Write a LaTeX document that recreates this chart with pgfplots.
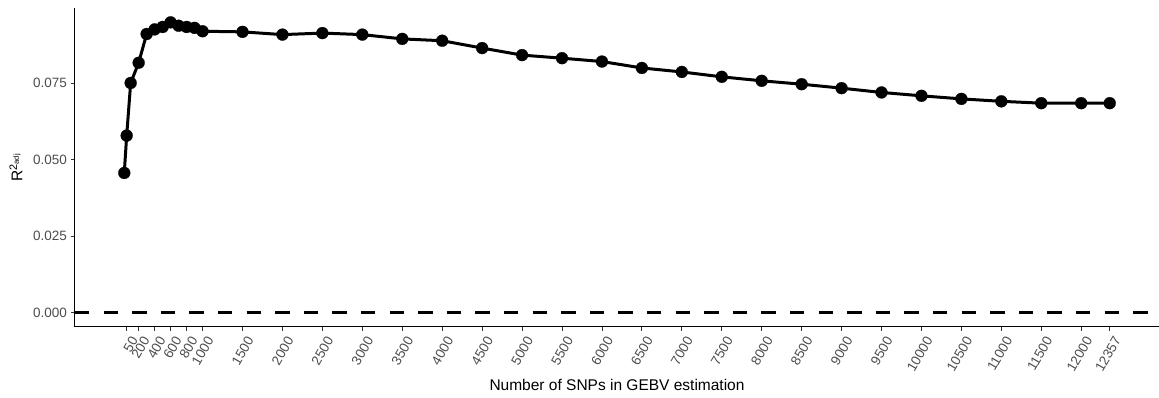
\documentclass[border=0pt]{standalone}
\usepackage{fontspec}
\setmainfont{Liberation Sans}
\usepackage{pgfplots}
\pgfplotsset{compat=1.18}
\definecolor{tickgray}{HTML}{4D4D4D}
\definecolor{axisgray}{HTML}{333333}
\begin{document}
\begin{tikzpicture}
\begin{axis}[
  at={(75pt,71pt)}, anchor=south west,
  scale only axis, width=1084pt, height=319pt,
  xmin=-597, xmax=12974, ymin=-0.00474, ymax=0.0995,
  axis lines=left,
  axis line style={-, line width=1pt, black},
  tick align=outside, major tick length=4pt,
  tick style={line width=0.9pt, axisgray},
  scaled x ticks=false, scaled y ticks=false,
  /pgf/number format/assume math mode=true,
  xtick={50,200,400,600,800,1000,1500,2000,2500,3000,3500,4000,4500,5000,5500,6000,6500,7000,7500,8000,8500,9000,9500,10000,10500,11000,11500,12000,12357},
  xticklabels={50,200,400,600,800,1000,1500,2000,2500,3000,3500,4000,4500,5000,5500,6000,6500,7000,7500,8000,8500,9000,9500,10000,10500,11000,11500,12000,12357},
  ytick={0,0.025,0.05,0.075},
  yticklabels={0.000,0.025,0.050,0.075},
  xticklabel style={rotate=60, anchor=east, font=\fontsize{13.5}{15}\selectfont, text=tickgray, inner sep=1pt, xshift=-1pt, yshift=-10pt},
  yticklabel style={font=\fontsize{13.5}{15}\selectfont, text=tickgray, inner sep=1pt, xshift=-3pt},
  xlabel={Number of SNPs in GEBV estimation},
  ylabel={R\textsuperscript{2\textsubscript{adj}}},
  every axis x label/.style={at={(axis description cs:0.5,-0.2006)}, anchor=base, font=\fontsize{15.5}{18}\selectfont},
  every axis y label/.style={at={(axis description cs:-0.0544,0.5)}, rotate=90, anchor=center, font=\fontsize{15.5}{18}\selectfont},
  clip=false,
]
\addplot[black, line width=3pt, dash pattern=on 14.3pt off 14.3pt] coordinates {(-597,0) (12974,0)};
\addplot[black, line width=3pt, mark=*, mark size=6pt, mark options={solid, line width=0.2pt}] coordinates {
(20,0.0456) (50,0.0578) (100,0.0750) (200,0.0816) (300,0.0910) (400,0.0925)
(500,0.0933) (600,0.0948) (700,0.0937) (800,0.0933) (900,0.0930) (1000,0.0919)
(1500,0.0917) (2000,0.0908) (2500,0.0913) (3000,0.0908) (3500,0.0894) (4000,0.0888)
(4500,0.0864) (5000,0.0841) (5500,0.0831) (6000,0.0820) (6500,0.0799) (7000,0.0786)
(7500,0.0770) (8000,0.0757) (8500,0.0746) (9000,0.0733) (9500,0.0719) (10000,0.0708)
(10500,0.0698) (11000,0.0690) (11500,0.0684) (12000,0.0684) (12357,0.0684)
};
\end{axis}
\pgfresetboundingbox
\path[use as bounding box] (0,0) rectangle (1159pt,398pt);
\end{tikzpicture}
\end{document}
